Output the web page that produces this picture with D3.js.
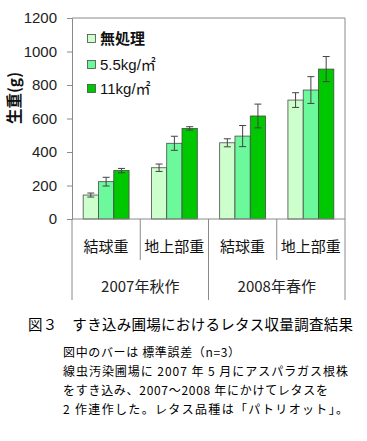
<!DOCTYPE html>
<html><head><meta charset="utf-8">
<script src="https://cdn.jsdelivr.net/npm/d3@7/dist/d3.min.js"></script>
<style>
html,body{margin:0;padding:0;background:#fff;}
svg{display:block;}
</style></head>
<body>
<script>
const categories = ["結球重","地上部重","結球重","地上部重"];
const groups = ["2007年秋作","2008年春作"];
const seriesNames = ["無処理","5.5kg/㎡","11kg/㎡"];
const valNone = [143, 306, 455, 710];
const val55 = [223, 452, 495, 770];
const val11 = [289, 541, 615, 895];
const errNone = [12, 22, 24, 44];
const err55 = [26, 42, 63, 80];
const err11 = [13, 10, 71, 75];
const yTicks = [0,200,400,600,800,1000,1200];
const colors = ["#ccffcc","#6cf99c","#00c800"];
const captionTitle = "図３　すき込み圃場におけるレタス収量調査結果";
const captionLines = [
  "図中のバーは 標準誤差（n=3）",
  "線虫汚染圃場に 2007 年 5 月にアスパラガス根株",
  "をすき込み、2007～2008 年にかけてレタスを",
  "2 作連作した。レタス品種は「パトリオット」。"
];

const W = 367, H = 441;
const L = 72, R = 345, T = 18, B = 219;
const svg = d3.select("body").append("svg").attr("width", W).attr("height", H);
svg.append("rect").attr("width", W).attr("height", H).attr("fill", "#fff");

const seriesVals = [valNone, val55, val11];
const seriesErr = [errNone, err55, err11];

const y = d3.scaleLinear().domain([0,1200]).range([B, T]);
const x0 = d3.scaleBand().domain(d3.range(categories.length)).range([L, R]).paddingInner(0).paddingOuter(0);
const x1 = d3.scaleBand().domain(d3.range(seriesNames.length)).range([0, x0.bandwidth()]).paddingInner(0).paddingOuter(0.73);

const axisColor = "#8a8a8a";
const numFont = "'Liberation Sans', Arial, sans-serif";
const cjkFont = "'Noto Sans CJK JP', sans-serif";

// frame top & right
svg.append("line").attr("x1", L).attr("x2", R).attr("y1", T).attr("y2", T).attr("stroke", axisColor);
svg.append("line").attr("x1", R).attr("x2", R).attr("y1", T).attr("y2", B).attr("stroke", axisColor);

// y axis
const yAxis = svg.append("g").attr("transform", `translate(${L},0)`)
  .call(d3.axisLeft(y).tickValues(yTicks).tickFormat(d3.format("d")).tickSize(5).tickPadding(10));
yAxis.select(".domain").attr("stroke", axisColor);
yAxis.selectAll(".tick line").attr("stroke", axisColor);
yAxis.selectAll(".tick text").attr("font-family", numFont).attr("font-size", 15).attr("fill", "#222");

// bars
seriesVals.forEach((vals, s) => {
  const g = svg.append("g");
  g.selectAll("rect").data(vals).join("rect")
    .attr("x", (d,i) => x0(i) + x1(s))
    .attr("y", d => y(d))
    .attr("width", x1.bandwidth())
    .attr("height", d => B - y(d))
    .attr("fill", colors[s])
    .attr("stroke", "#4a4a4a").attr("stroke-width", 0.8);
  const errs = seriesErr[s];
  const eg = svg.append("g").attr("stroke", "#444").attr("stroke-width", 1);
  vals.forEach((d,i) => {
    const cx = x0(i) + x1(s) + x1.bandwidth()/2;
    eg.append("line").attr("x1", cx).attr("x2", cx).attr("y1", y(d+errs[i])).attr("y2", y(d-errs[i]));
    eg.append("line").attr("x1", cx-3.5).attr("x2", cx+3.5).attr("y1", y(d+errs[i])).attr("y2", y(d+errs[i]));
    eg.append("line").attr("x1", cx-3.5).attr("x2", cx+3.5).attr("y1", y(d-errs[i])).attr("y2", y(d-errs[i]));
  });
});

// x axis baseline
svg.append("line").attr("x1", L).attr("x2", R).attr("y1", B).attr("y2", B).attr("stroke", axisColor);
// separators
for (let i = 0; i <= categories.length; i++) {
  const xx = i === categories.length ? R : x0(i);
  const long = (i % 2 === 0);
  svg.append("line").attr("x1", xx).attr("x2", xx).attr("y1", B).attr("y2", long ? 300 : 260).attr("stroke", axisColor);
}
// category labels
svg.append("g").selectAll("text").data(categories).join("text")
  .attr("x", (d,i) => x0(i) + x0.bandwidth()/2)
  .attr("y", 247).attr("dy", "0.35em")
  .attr("text-anchor", "middle").attr("font-family", cjkFont).attr("font-size", 15).attr("fill", "#111")
  .text(d => d);
// group labels
svg.append("g").selectAll("text").data(groups).join("text")
  .attr("x", (d,i) => x0(i*2) + x0.bandwidth())
  .attr("y", 287).attr("dy", "0.35em")
  .attr("text-anchor", "middle").attr("font-family", cjkFont).attr("font-size", 15).attr("fill", "#222")
  .text(d => d);

// y label
svg.append("text").attr("transform", "translate(15,98) rotate(-90)")
  .attr("text-anchor", "middle").attr("dy", "0.35em")
  .attr("font-family", cjkFont).attr("font-weight", "bold").attr("font-size", 15.5).attr("fill", "#111")
  .text("生重(g)");

// legend
const legY = [39, 65, 89];
seriesNames.forEach((n, s) => {
  svg.append("rect").attr("x", 87.5).attr("y", legY[s]-4.5).attr("width", 8).attr("height", 8)
    .attr("fill", colors[s]).attr("stroke", "#4a4a4a").attr("stroke-width", 0.8);
  svg.append("text").attr("x", 100).attr("y", legY[s]).attr("dy", "0.35em")
    .attr("font-family", s === 0 ? cjkFont : numFont + ", 'Noto Sans CJK JP'")
    .attr("font-weight", s === 0 ? "bold" : "normal")
    .attr("font-size", 15).attr("fill", "#111").text(n);
});

// caption
svg.append("text").attr("x", 28).attr("y", 325).attr("dy", "0.35em")
  .attr("font-family", cjkFont).attr("font-size", 14.5).attr("fill", "#000")
  .attr("textLength", 325).attr("lengthAdjust", "spacing").text(captionTitle);
const capY = [353, 372, 391, 410];
const capW = [177, 285, 265, 285];
captionLines.forEach((t, i) => {
  svg.append("text").attr("x", 63).attr("y", capY[i]).attr("dy", "0.35em")
    .attr("font-family", cjkFont).attr("font-size", 12).attr("fill", "#000")
    .attr("textLength", capW[i]).attr("lengthAdjust", "spacing").text(t);
});
</script>
</body></html>
